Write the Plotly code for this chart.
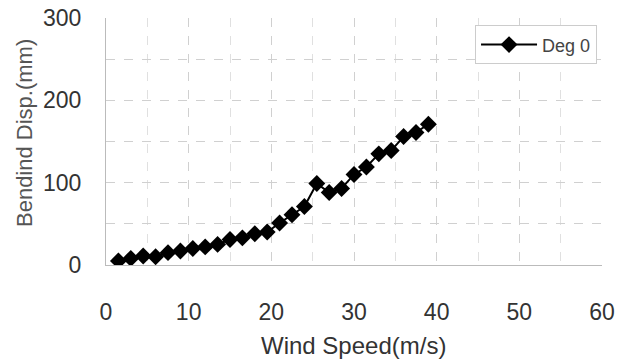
import plotly.graph_objects as go

wind_speed = [1.5, 3, 4.5, 6, 7.5, 9, 10.5, 12, 13.5, 15, 16.5, 18, 19.5, 21, 22.5,
              24, 25.5, 27, 28.5, 30, 31.5, 33, 34.5, 36, 37.5, 39]
disp_deg0 = [5, 8, 11, 10, 15, 17, 20, 22, 25, 31, 33, 38, 40, 51, 61,
             71, 99, 88, 93, 110, 119, 135, 139, 156, 161, 171]

x_ticks = [0, 10, 20, 30, 40, 50, 60]
y_ticks = [0, 100, 200, 300]

fig = go.Figure()
fig.add_trace(go.Scatter(
    x=wind_speed, y=disp_deg0, name="Deg 0", mode="lines+markers",
    line=dict(color="black", width=2),
    marker=dict(symbol="diamond", size=13, color="black"),
))

regular = "Liberation Sans, Arial, sans-serif"
fig.update_layout(
    width=634, height=362,
    margin=dict(l=106, r=32, t=18, b=97, autoexpand=False),
    paper_bgcolor="white", plot_bgcolor="white",
    font=dict(family=regular, color="#333333"),
    showlegend=True,
    legend=dict(x=0.99, y=0.97, xanchor="right", yanchor="top",
                bordercolor="#cccccc", borderwidth=1, bgcolor="white",
                font=dict(size=18, family=regular, color="#444444"), itemwidth=56),
    xaxis=dict(range=[0, 60], tickvals=x_ticks, ticks="", showgrid=True, automargin=False,
               gridcolor="#d0d0d0", griddash="dash", gridwidth=1,
               minor=dict(dtick=5, showgrid=True, gridcolor="#e0e0e0", griddash="dash"),
               showline=True, linecolor="#bbbbbb", linewidth=1,
               tickfont=dict(size=23, family=regular, color="#333333"), ticklabelstandoff=26,
               zeroline=False),
    yaxis=dict(range=[0, 300], tickvals=y_ticks, ticks="", showgrid=True, automargin=False,
               gridcolor="#d0d0d0", griddash="dash", gridwidth=1,
               minor=dict(dtick=50, showgrid=True, gridcolor="#d0d0d0", griddash="dash"),
               showline=True, linecolor="#bbbbbb", linewidth=1,
               tickfont=dict(size=23, family=regular, color="#333333"), ticklabelstandoff=19,
               zeroline=False),
    annotations=[
        dict(text="Wind Speed(m/s)", xref="paper", yref="paper", x=0.498, y=-0.324,
             xanchor="center", yanchor="middle", showarrow=False,
             font=dict(size=24, family=regular, color="#333333")),
        dict(text="Bendind Disp.(mm)", xref="paper", yref="paper", x=-0.163, y=0.535,
             xanchor="center", yanchor="middle", showarrow=False, textangle=-90,
             font=dict(size=22, family=regular, color="#555555")),
    ],
)

fig.write_html("out.html", post_script="document.body.style.margin='0';",
               config={"displayModeBar": False})
